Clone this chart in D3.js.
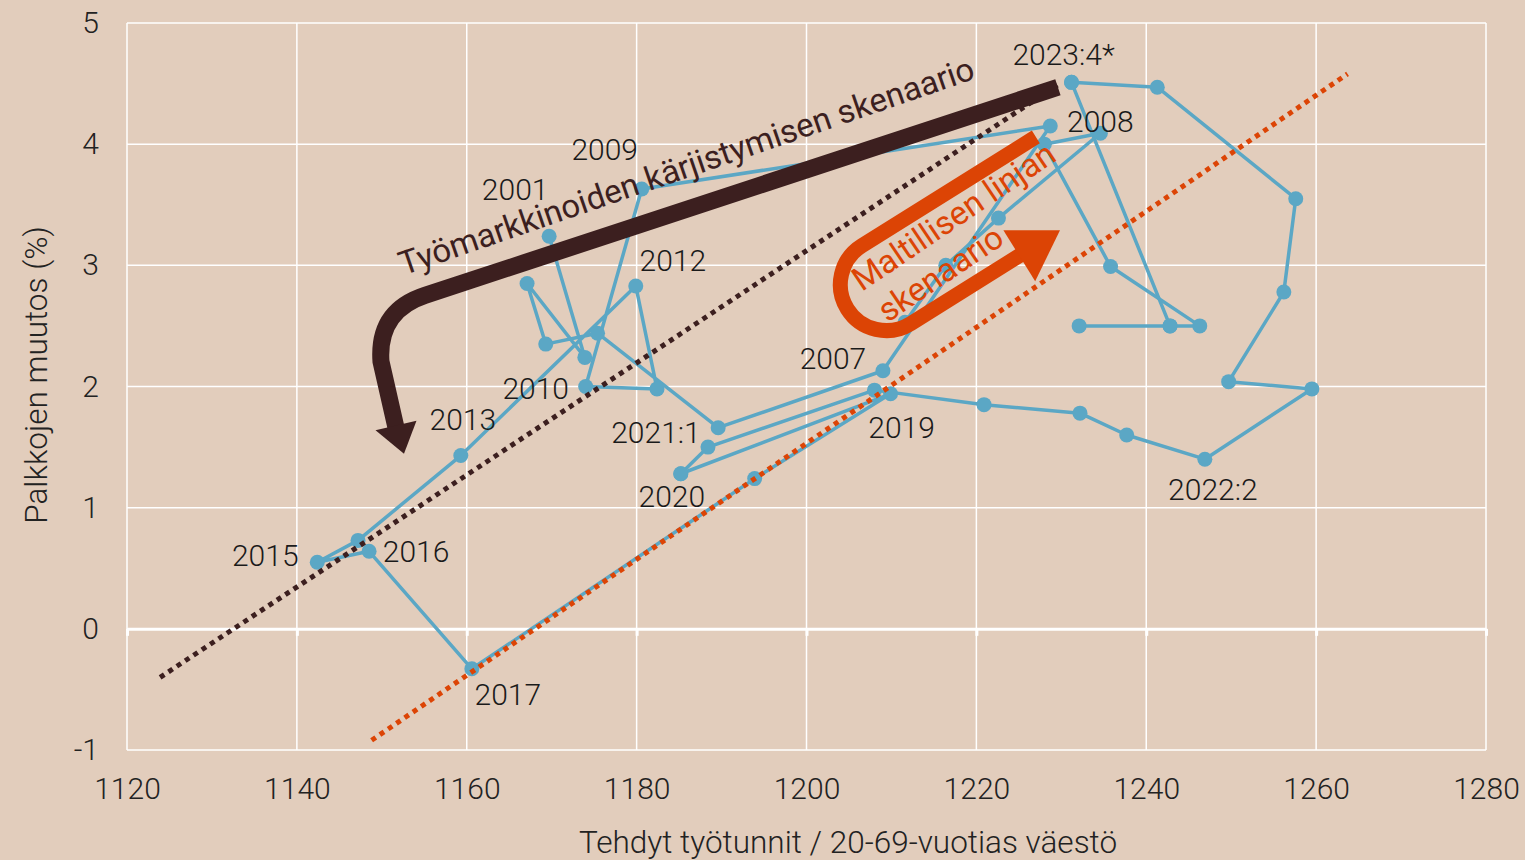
<!DOCTYPE html>
<html>
<head>
<meta charset="utf-8">
<script src="https://cdn.jsdelivr.net/npm/d3@7"></script>
<style>
  body { margin: 0; background: #e2cdbc; }
  svg { display: block; font-family: Roboto, "Noto Sans", sans-serif; }
</style>
</head>
<body>
<script>
const w = 1525;
const h = 860;

// akselit
const xTicks = [1120, 1140, 1160, 1180, 1200, 1220, 1240, 1260, 1280];
const yTicks = [-1, 0, 1, 2, 3, 4, 5];

// vuosiaineisto 2001-2020
const vuodet = ["2001", "2002", "2003", "2004", "2005", "2006", "2007", "2008", "2009", "2010",
  "2011", "2012", "2013", "2014", "2015", "2016", "2017", "2018", "2019", "2020"];
const vuosiTunnit = [1169.7, 1173.9, 1167.1, 1169.3, 1175.4, 1189.6, 1209.0, 1228.7, 1180.6, 1174.0,
  1182.4, 1179.9, 1159.3, 1147.2, 1142.4, 1148.5, 1160.6, 1193.9, 1209.9, 1185.2];
const vuosiPalkat = [3.24, 2.24, 2.85, 2.35, 2.44, 1.66, 2.13, 4.15, 3.63, 2.00,
  1.98, 2.83, 1.43, 0.73, 0.55, 0.64, -0.33, 1.24, 1.94, 1.28];

// neljännesaineisto 2020 -> 2023:4
const neljannekset = ["2020", "2021:1", "2021:2", "2021:3", "2021:4", "2022:1", "2022:2",
  "2022:3", "2022:4", "2023:1", "2023:2", "2023:3", "2023:4*"];
const nelTunnit = [1185.2, 1188.4, 1208.0, 1220.9, 1232.2, 1237.7, 1246.9,
  1259.5, 1249.7, 1256.2, 1257.6, 1241.3, 1231.2];
const nelPalkat = [1.28, 1.50, 1.97, 1.85, 1.78, 1.60, 1.40,
  1.98, 2.04, 2.78, 3.55, 4.47, 4.51];

// skenaariopolut
const polkuATunnit = [1231.2, 1242.8, 1232.1];
const polkuAPalkat = [4.51, 2.50, 2.50];
const polkuBTunnit = [1211.6, 1216.4, 1222.6, 1234.6, 1228.0, 1235.8, 1246.3, 1242.8];
const polkuBPalkat = [2.53, 3.00, 3.39, 4.09, 4.00, 2.99, 2.50, 2.50];

// katkoviivat (alku- ja loppupiste)
const tummaX = [1123.9, 1229.6];
const tummaY = [-0.40, 4.49];
const oranssiX = [1148.8, 1263.7];
const oranssiY = [-0.92, 4.58];

const bg = "#e2cdbc";
const blue = "#5ba7c5";
const dark = "#3c1f1f";
const orange = "#dc4405";

const svg = d3.select("body").append("svg").attr("width", w).attr("height", h);
svg.append("rect").attr("width", w).attr("height", h).attr("fill", bg);

const x = d3.scaleLinear().domain([1120, 1280]).range([127, 1486]);
const y = d3.scaleLinear().domain([-1, 5]).range([750, 23]);

// ruudukko
svg.append("g").selectAll("line").data(xTicks).enter().append("line")
  .attr("x1", d => x(d)).attr("x2", d => x(d))
  .attr("y1", y(5)).attr("y2", y(-1))
  .attr("stroke", "#fff").attr("stroke-width", 1.5);
svg.append("g").selectAll("line").data(yTicks).enter().append("line")
  .attr("x1", x(1120)).attr("x2", x(1280))
  .attr("y1", d => y(d)).attr("y2", d => y(d))
  .attr("stroke", "#fff").attr("stroke-width", 1.5);

// nollaviiva tikkeineen
svg.append("g")
  .attr("transform", "translate(0," + y(0) + ")")
  .call(d3.axisBottom(x).tickValues(xTicks).tickSize(7).tickSizeOuter(0).tickFormat(""))
  .call(g => g.selectAll("line, path").attr("stroke", "#fff").attr("stroke-width", 3));

// akselien tekstit
svg.append("g")
  .attr("transform", "translate(" + x(1120) + ",0)")
  .call(d3.axisLeft(y).tickValues(yTicks).tickSize(0).tickPadding(28).tickFormat(d => String(d)))
  .call(g => g.select(".domain").remove())
  .selectAll("text").attr("font-size", 30).attr("font-weight", 300).attr("fill", "#222")
  .attr("font-family", "Roboto");
svg.append("g")
  .attr("transform", "translate(0," + y(-1) + ")")
  .call(d3.axisBottom(x).tickValues(xTicks).tickSize(0).tickPadding(28).tickFormat(d => String(d)))
  .call(g => g.select(".domain").remove())
  .selectAll("text").attr("font-size", 30).attr("font-weight", 300).attr("fill", "#222")
  .attr("font-family", "Roboto");

svg.append("text")
  .attr("transform", "translate(36,375) rotate(-90)")
  .attr("text-anchor", "middle").attr("dominant-baseline", "central")
  .attr("font-size", 31.5).attr("font-weight", 300).attr("fill", "#222")
  .text("Palkkojen muutos (%)");
svg.append("text")
  .attr("x", 848).attr("y", 842)
  .attr("text-anchor", "middle").attr("dominant-baseline", "central")
  .attr("font-size", 31.5).attr("font-weight", 300).attr("fill", "#222")
  .text("Tehdyt työtunnit / 20-69-vuotias väestö");

// aineistosarjat
const toPoints = (t, p, n) => t.map((d, i) => ({ t: d, p: p[i], n: n ? n[i] : null }));
const sarjat = [
  toPoints(vuosiTunnit, vuosiPalkat, vuodet),
  toPoints(nelTunnit, nelPalkat, neljannekset),
  toPoints(polkuATunnit, polkuAPalkat),
  toPoints(polkuBTunnit, polkuBPalkat)
];

const line = d3.line().x(d => x(d.t)).y(d => y(d.p));

svg.append("g").selectAll("path").data(sarjat).enter().append("path")
  .attr("d", line)
  .attr("fill", "none").attr("stroke", blue).attr("stroke-width", 3.5)
  .attr("stroke-linejoin", "round");

svg.append("g").selectAll("circle").data(sarjat.flat()).enter().append("circle")
  .attr("cx", d => x(d.t)).attr("cy", d => y(d.p)).attr("r", 7.5)
  .attr("fill", blue);

// pisteviivat
const trendi = d3.line().x(d => x(d[0])).y(d => y(d[1]));
svg.append("path")
  .attr("d", trendi(d3.zip(tummaX, tummaY)))
  .attr("stroke", dark).attr("stroke-width", 5).attr("stroke-dasharray", "5 5")
  .attr("fill", "none");
svg.append("path")
  .attr("d", trendi(d3.zip(oranssiX, oranssiY)))
  .attr("stroke", orange).attr("stroke-width", 5).attr("stroke-dasharray", "5 5")
  .attr("fill", "none");

// vuosimerkinnät
const labelOffsets = {
  "2001": [-34, -47], "2009": [-37, -39], "2012": [37, -25], "2010": [-50, 2],
  "2013": [2, -36], "2015": [-52, -7], "2016": [47, 0], "2017": [36, 26],
  "2007": [-50, -12], "2008": [50, -4], "2019": [11, 34], "2020": [-9, 23],
  "2021:1": [-52, -15], "2022:2": [8, 30], "2023:4*": [-8, -28]
};
const labelled = [];
sarjat.slice(0, 2).forEach((s, si) => s.forEach(d => {
  if (labelOffsets[d.n] && !(si === 1 && d.n === "2020")) labelled.push(d);
}));
svg.append("g").selectAll("text").data(labelled).enter().append("text")
  .attr("x", d => x(d.t) + labelOffsets[d.n][0])
  .attr("y", d => y(d.p) + labelOffsets[d.n][1])
  .attr("text-anchor", "middle").attr("dominant-baseline", "central")
  .attr("font-size", 30).attr("font-weight", 300).attr("fill", "#1a1a1a")
  .text(d => d.n);

// kärjistymisen skenaario: nuoli
const p = d3.path();
p.moveTo(x(1229.6), y(4.47));
p.lineTo(x(1155.08), y(2.752));
p.quadraticCurveTo(x(1149.49), y(2.623), x(1149.9), y(2.207));
p.lineTo(x(1151.67), y(1.661));
svg.append("path").attr("d", p.toString())
  .attr("fill", "none").attr("stroke", dark).attr("stroke-width", 17);
svg.append("path")
  .attr("d", d3.line()([[x(1149.26), y(1.639)], [x(1154.08), y(1.717)], [x(1152.61), y(1.446)]]) + "Z")
  .attr("fill", dark);
svg.append("text")
  .attr("transform", "translate(" + x(1186.3) + "," + y(3.73) + ") rotate(-19)")
  .attr("text-anchor", "middle")
  .attr("font-size", 33).attr("fill", dark)
  .text("Työmarkkinoiden kärjistymisen skenaario");

// maltillisen linjan skenaario: U-nuoli
const u = svg.append("g")
  .attr("transform", "translate(" + x(1227.0) + "," + y(4.06) + ") rotate(-32)");
u.append("path")
  .attr("d", "M0,0 L-205,0 A46,46 0 0 0 -205,92 L-75,92")
  .attr("fill", "none").attr("stroke", orange).attr("stroke-width", 15);
u.append("path").attr("d", "M-77,62 L-29,92 L-77,122 Z").attr("fill", orange);

const ot = svg.append("text")
  .attr("transform", "translate(" + x(1206.5) + "," + y(2.78) + ") rotate(-34)")
  .attr("font-size", 33).attr("fill", orange);
ot.append("tspan").attr("x", 0).attr("dy", 0).text("Maltillisen linjan");
ot.append("tspan").attr("x", 4).attr("dy", 40).text("skenaario");
</script>
</body>
</html>
